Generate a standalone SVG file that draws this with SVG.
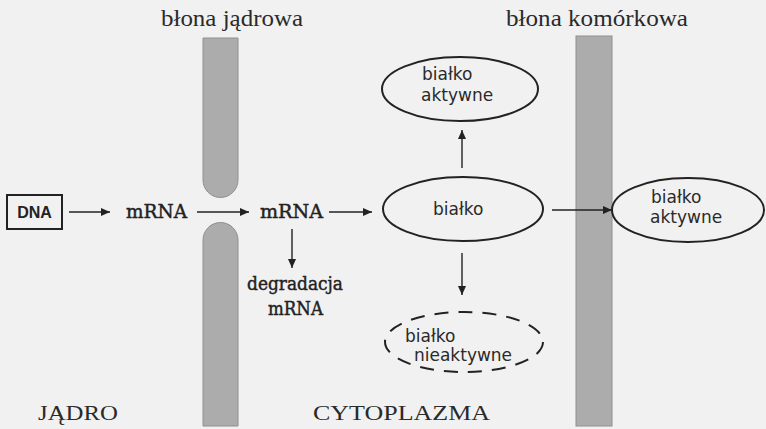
<svg xmlns="http://www.w3.org/2000/svg" width="766" height="429" viewBox="0 0 766 429">
<style>
.serif{font-family:"Liberation Serif","Times New Roman",serif;fill:#2a2a2a}
.lbl{font-family:"DejaVu Serif","Liberation Serif",serif;font-size:18px;fill:#222;stroke:#222;stroke-width:0.45}
.sans{font-family:"DejaVu Sans","Liberation Sans",sans-serif;font-size:17px;fill:#2a2a2a}
.mem{fill:#acacac;stroke:#909090;stroke-width:1}
.ell{fill:none;stroke:#222;stroke-width:2}
.ln{stroke:#222;stroke-width:1.4;fill:none}
</style>
<defs>
<marker id="ah" markerWidth="10" markerHeight="10" refX="9" refY="5" orient="auto" markerUnits="userSpaceOnUse">
<path d="M0,1 L9,5 L0,9 Z" fill="#222"/>
</marker>
</defs>
<rect width="766" height="429" fill="#f1f1f1"/>

<g id="nuclear-membrane">
<path class="mem" d="M203,38 H238 V180 A17.5,17.5 0 0 1 203,180 Z"/>
<path class="mem" d="M203,240 A17.5,17.5 0 0 1 238,240 V426 H203 Z"/>
<text class="serif" x="232" y="26" font-size="24" text-anchor="middle" textLength="142" lengthAdjust="spacingAndGlyphs">błona jądrowa</text>
</g>
<g id="cell-membrane">
<rect class="mem" x="576" y="36" width="36" height="390" fill="#b9b9b9"/>
<text class="serif" x="597" y="26" font-size="24" text-anchor="middle" textLength="182" lengthAdjust="spacingAndGlyphs">błona komórkowa</text>
</g>

<g id="dna">
<rect x="7" y="195" width="55" height="34" fill="none" stroke="#222" stroke-width="2"/>
<text x="34.5" y="218" text-anchor="middle" font-family="Liberation Sans, Arial, sans-serif" font-weight="bold" font-size="16" fill="#222">DNA</text>
</g>
<g id="mrna1"><text class="lbl" x="126" y="218" textLength="61" lengthAdjust="spacingAndGlyphs">mRNA</text></g>
<g id="mrna2"><text class="lbl" x="260" y="218" textLength="63" lengthAdjust="spacingAndGlyphs">mRNA</text></g>
<g id="degradacja">
<text class="lbl" x="247" y="290" textLength="96" lengthAdjust="spacingAndGlyphs">degradacja</text>
<text class="lbl" x="268" y="315" textLength="55" lengthAdjust="spacingAndGlyphs">mRNA</text>
</g>

<g id="bialko">
<ellipse class="ell" cx="463" cy="209" rx="80" ry="32"/>
<text class="sans" x="433" y="215">białko</text>
</g>
<g id="bialko-aktywne-top">
<ellipse class="ell" cx="460" cy="89" rx="78" ry="32"/>
<text class="sans" x="422" y="80">białko</text>
<text class="sans" x="421" y="101">aktywne</text>
</g>
<g id="bialko-aktywne-right">
<ellipse class="ell" cx="688" cy="210" rx="76" ry="32"/>
<text class="sans" x="651" y="203">białko</text>
<text class="sans" x="650" y="223">aktywne</text>
</g>
<g id="bialko-nieaktywne">
<ellipse class="ell" cx="464" cy="342" rx="79" ry="30" stroke-dasharray="14,10"/>
<text class="sans" x="405" y="342">białko</text>
<text class="sans" x="414" y="361">nieaktywne</text>
</g>

<g id="regions">
<text class="serif" x="38" y="420" font-size="22" textLength="80" lengthAdjust="spacingAndGlyphs">JĄDRO</text>
<text class="serif" x="313" y="420" font-size="22" textLength="177" lengthAdjust="spacingAndGlyphs">CYTOPLAZMA</text>
</g>

<g id="connectors">
<line class="ln" x1="69" y1="212" x2="110" y2="212" marker-end="url(#ah)"/>
<line class="ln" x1="197" y1="212" x2="249" y2="212" marker-end="url(#ah)"/>
<line class="ln" x1="329" y1="212" x2="372" y2="212" marker-end="url(#ah)"/>
<line class="ln" x1="292" y1="229" x2="292" y2="268" marker-end="url(#ah)"/>
<line class="ln" x1="462" y1="168" x2="462" y2="130" marker-end="url(#ah)"/>
<line class="ln" x1="462" y1="253" x2="462" y2="295" marker-end="url(#ah)"/>
<line class="ln" x1="552" y1="210" x2="612" y2="210" marker-end="url(#ah)"/>
</g>
</svg>
